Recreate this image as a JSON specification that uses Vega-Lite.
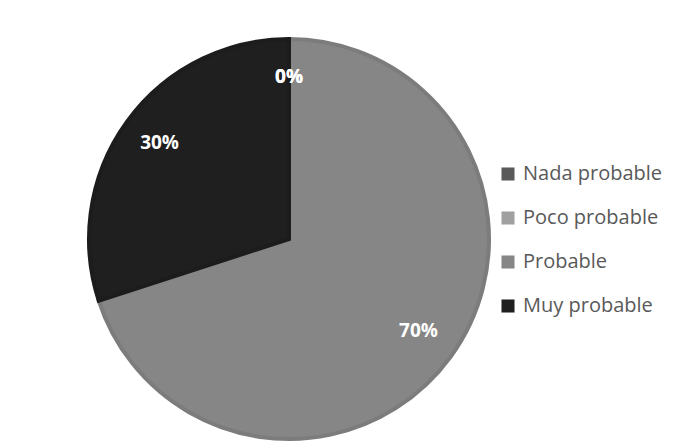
{
  "$schema": "https://vega.github.io/schema/vega-lite/v6.json",
  "width": 578,
  "height": 412,
  "padding": {"left": 0, "top": 31, "right": 0, "bottom": 0},
  "background": "white",
  "data": {"values": [
    {"categoria": "Nada probable", "orden": 1, "valor": 0, "etiqueta": "0%"},
    {"categoria": "Poco probable", "orden": 2, "valor": 0, "etiqueta": "0%"},
    {"categoria": "Probable", "orden": 3, "valor": 70, "etiqueta": "70%"},
    {"categoria": "Muy probable", "orden": 4, "valor": 30, "etiqueta": "30%"}
  ]},
  "encoding": {
    "theta": {"field": "valor", "type": "quantitative", "stack": true},
    "order": {"field": "orden", "type": "quantitative"}
  },
  "layer": [
    {
      "mark": {"type": "arc", "outerRadius": 200, "strokeWidth": 4},
      "encoding": {
        "color": {
          "field": "categoria", "type": "nominal",
          "sort": ["Nada probable", "Poco probable", "Probable", "Muy probable"],
          "scale": {
            "domain": ["Nada probable", "Poco probable", "Probable", "Muy probable"],
            "range": ["#5a5a5a", "#a0a0a0", "#868686", "#1f1f1f"]
          },
          "legend": {
            "title": null,
            "orient": "none",
            "legendX": 498,
            "legendY": 131,
            "symbolType": "square",
            "symbolSize": 170,
            "symbolStrokeWidth": 0,
            "labelFont": "Open Sans",
            "labelFontSize": 20,
            "labelColor": "#595959",
            "rowPadding": 24,
            "labelOffset": 5
          }
        },
        "stroke": {
          "field": "categoria", "type": "nominal",
          "scale": {
            "domain": ["Nada probable", "Poco probable", "Probable", "Muy probable"],
            "range": ["#525252", "#939393", "#7c7c7c", "#1c1c1c"]
          },
          "legend": null
        }
      }
    },
    {
      "mark": {"type": "text", "radius": 160, "dy": -2, "font": "Open Sans", "fontSize": 19, "fontWeight": "bold", "fill": "white"},
      "encoding": {
        "text": {"field": "etiqueta", "type": "nominal"}
      }
    }
  ]
}
